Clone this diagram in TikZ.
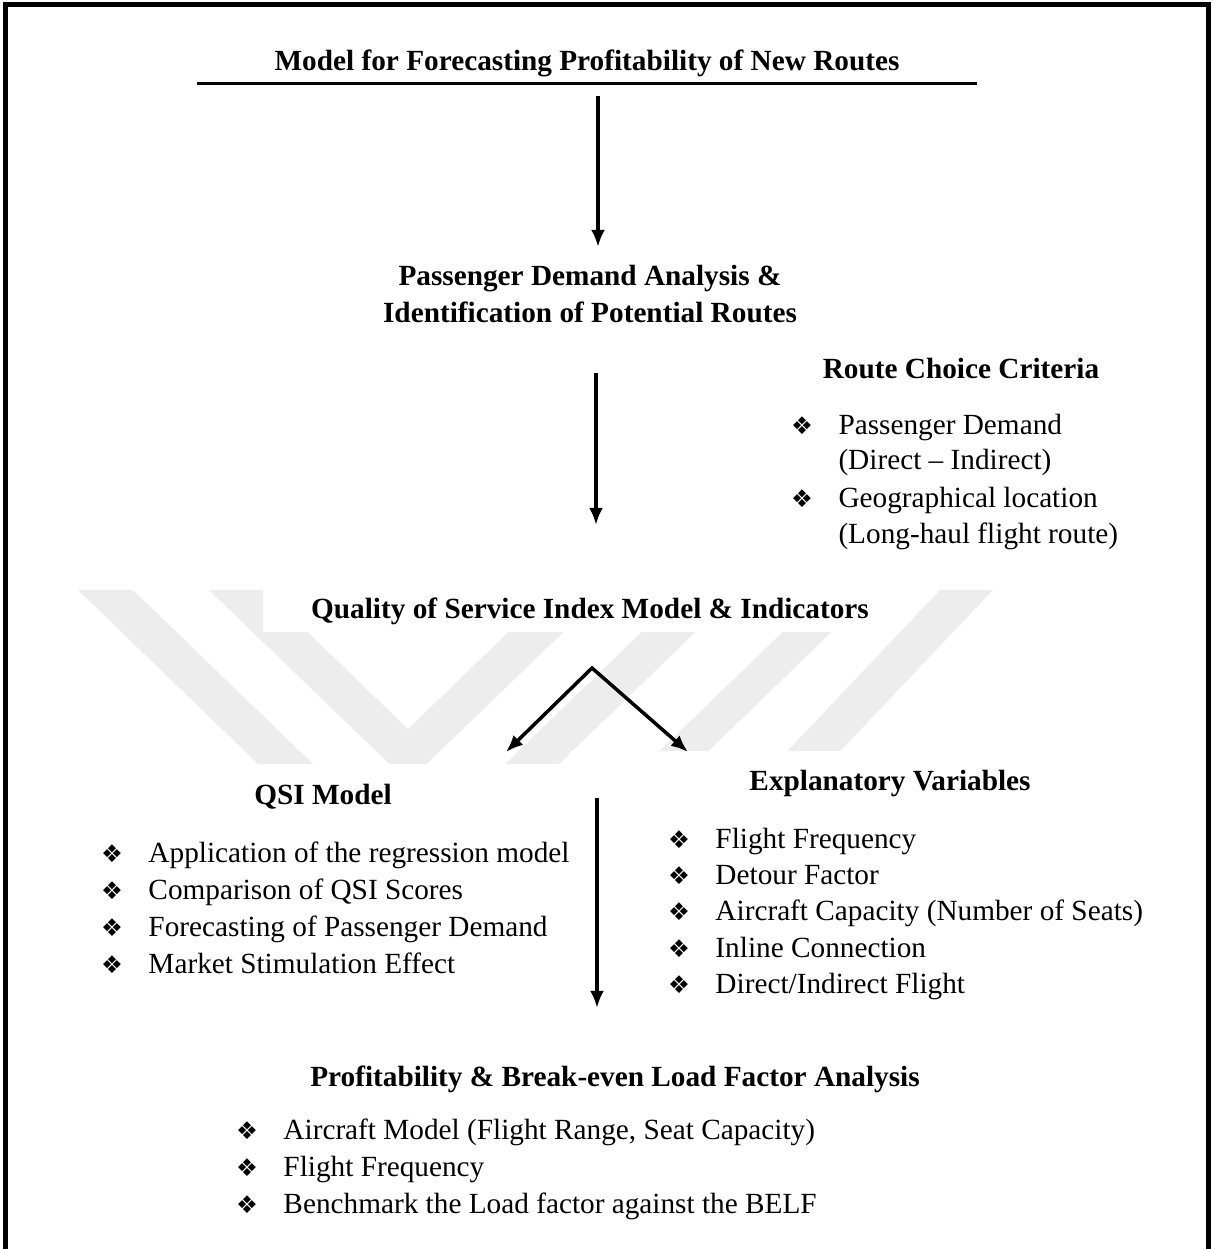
\documentclass[tikz,border=0pt]{standalone}
\usepackage{fontspec}
\usetikzlibrary{arrows.meta}
\setmainfont{Liberation Serif}
\newfontfamily\bulletfont{DejaVu Sans}
\newlength{\du}
\setlength{\du}{0.41pt}
\newcommand{\dingbul}{{\bulletfont\fontsize{10}{12}\selectfont ❖}}
\tikzset{
  headtext/.style={font=\bfseries\fontsize{12}{14}\selectfont,inner sep=0pt,anchor=base},
  itemtext/.style={font=\fontsize{12}{14}\selectfont,inner sep=0pt,anchor=base west},
  bulletmark/.style={inner sep=0pt,anchor=base},
  flowtip/.tip={Latex[length=7pt,width=5.7pt]},
  flowarrow/.style={line width=3.5\du,-flowtip},
}
\begin{document}
\begin{tikzpicture}[x=\du,y=\du]
\pgftransformxscale{1.000000}
\pgftransformyscale{-1.000000}
\useasboundingbox (0,0) rectangle (1213,1249);
\definecolor{dialinecolor}{rgb}{0.000000, 0.000000, 0.000000}
\pgfsetstrokecolor{dialinecolor}
\definecolor{markcolor}{rgb}{0.930000, 0.930000, 0.930000}
\pgfsetmiterjoin
\pgfsetbuttcap
% faint background mark
\begin{scope}
\clip (0,590)--(263,590)--(263,632)--(890,632)--(890,590)--(1213,590)--(1213,751)--(570,751)--(570,764)--(0,764)--cycle;
\fill[markcolor] (78,590)--(133,590)--(313,764)--(258,764)--cycle;
\fill[markcolor] (209,590)--(264,590)--(408,729)--(552,590)--(607,590)--(408,782)--cycle;
\fill[markcolor] (685,590)--(739,590)--(559,764)--(505,764)--cycle;
\fill[markcolor] (826,590)--(875,590)--(695,764)--(646,764)--cycle;
\fill[markcolor] (940,590)--(993,590)--(828,764)--(775,764)--cycle;
\end{scope}
% frame
\draw[line width=5\du] (5,1249)--(5,5)--(1208,5)--(1208,1249);
% title
\node[headtext] (title) at (587,71) {Model for Forecasting Profitability of New Routes};
\coordinate (ruleleft) at (197,84);
\coordinate (ruleright) at (977,84);
\draw[line width=3\du] (ruleleft)--(ruleright);
\coordinate (arrowAtop) at (598,96);
\coordinate (arrowAend) at (598,247);
\draw[flowarrow] (arrowAtop)--(arrowAend);
% passenger demand
\node[headtext] (demand) at (590,285) {Passenger Demand Analysis \&};
\node[headtext] (routes) at (590,322) {Identification of Potential Routes};
\coordinate (arrowBtop) at (596,373);
\coordinate (arrowBend) at (596,525);
\draw[flowarrow] (arrowBtop)--(arrowBend);
% route choice criteria
\node[headtext] (criteria) at (961,378) {Route Choice Criteria};
\node[bulletmark] (critbulA) at (802,434) {\dingbul};
\node[itemtext] (critA) at (838,434) {Passenger Demand};
\node[itemtext] (critAb) at (838,469) {(Direct – Indirect)};
\node[bulletmark] (critbulB) at (802,507) {\dingbul};
\node[itemtext] (critB) at (838,507) {Geographical location};
\node[itemtext] (critBb) at (838,543) {(Long-haul flight route)};
% quality of service index
\node[headtext] (qsindex) at (590,618) {Quality of Service Index Model \& Indicators};
\coordinate (apex) at (592,668);
\coordinate (qsitip) at (506,752);
\coordinate (expltip) at (688,752);
\draw[line width=3.5\du,flowtip-flowtip] (qsitip)--(apex)--(expltip);
% qsi model
\node[headtext] (qsimodel) at (323,804) {QSI Model};
\node[bulletmark] (qsibulA) at (112,862) {\dingbul};
\node[itemtext] (qsiA) at (148,862) {Application of the regression model};
\node[bulletmark] (qsibulB) at (112,899) {\dingbul};
\node[itemtext] (qsiB) at (148,899) {Comparison of QSI Scores};
\node[bulletmark] (qsibulC) at (112,936) {\dingbul};
\node[itemtext] (qsiC) at (148,936) {Forecasting of Passenger Demand};
\node[bulletmark] (qsibulD) at (112,973) {\dingbul};
\node[itemtext] (qsiD) at (148,973) {Market Stimulation Effect};
% explanatory variables
\node[headtext] (explvars) at (890,790) {Explanatory Variables};
\node[bulletmark] (explbulA) at (679,848) {\dingbul};
\node[itemtext] (explA) at (715,848) {Flight Frequency};
\node[bulletmark] (explbulB) at (679,884) {\dingbul};
\node[itemtext] (explB) at (715,884) {Detour Factor};
\node[bulletmark] (explbulC) at (679,920) {\dingbul};
\node[itemtext] (explC) at (715,920) {Aircraft Capacity (Number of Seats)};
\node[bulletmark] (explbulD) at (679,957) {\dingbul};
\node[itemtext] (explD) at (715,957) {Inline Connection};
\node[bulletmark] (explbulE) at (679,993) {\dingbul};
\node[itemtext] (explE) at (715,993) {Direct/Indirect Flight};
\coordinate (arrowCtop) at (597,798);
\coordinate (arrowCend) at (597,1008);
\draw[flowarrow] (arrowCtop)--(arrowCend);
% profitability
\node[headtext] (profit) at (615,1086) {Profitability \& Break-even Load Factor Analysis};
\node[bulletmark] (profbulA) at (247,1139) {\dingbul};
\node[itemtext] (profA) at (283,1139) {Aircraft Model (Flight Range, Seat Capacity)};
\node[bulletmark] (profbulB) at (247,1176) {\dingbul};
\node[itemtext] (profB) at (283,1176) {Flight Frequency};
\node[bulletmark] (profbulC) at (247,1213) {\dingbul};
\node[itemtext] (profC) at (283,1213) {Benchmark the Load factor against the BELF};
\end{tikzpicture}
\end{document}
